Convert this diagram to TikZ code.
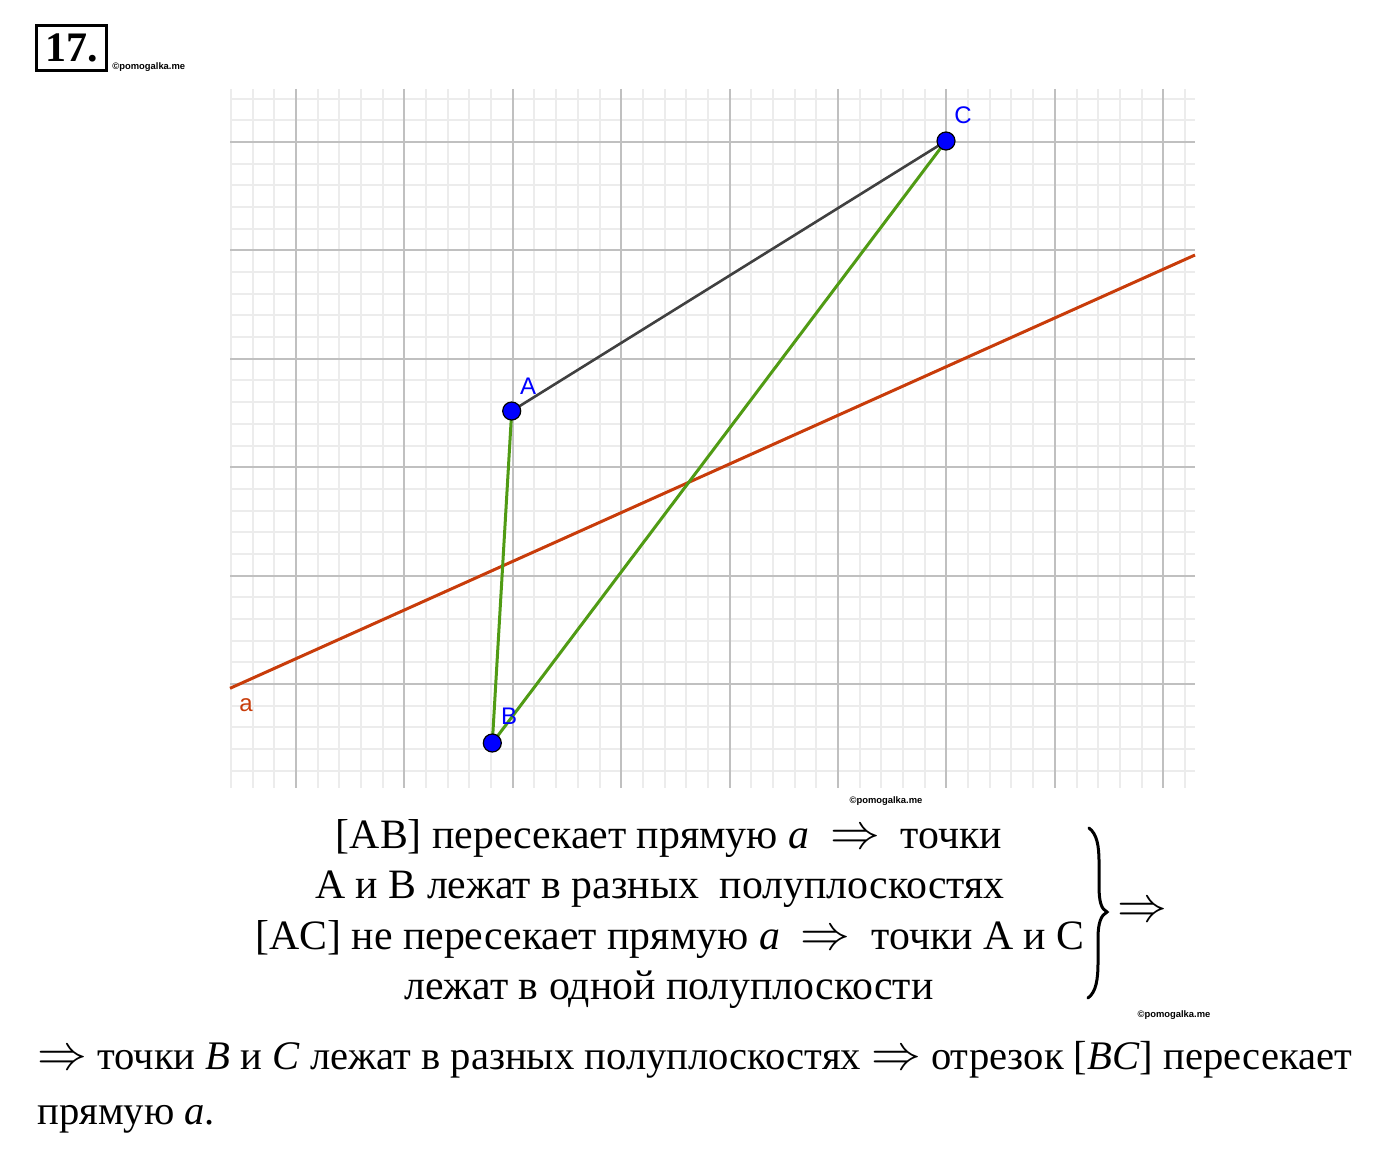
\documentclass[tikz,border=0pt]{standalone}
\usepackage{fontspec}
\setmainfont{Liberation Serif}
\newfontfamily\lsans{Liberation Sans}
\definecolor{gridminor}{RGB}{236,236,236}
\definecolor{gridmajor}{RGB}{192,192,192}
\definecolor{linea}{RGB}{200,60,10}
\definecolor{seggreen}{RGB}{80,155,20}
\definecolor{seggray}{RGB}{64,64,64}
\definecolor{ptblue}{RGB}{0,0,255}
\newcommand\myimp{{\fontsize{23}{23}\selectfont$\Rightarrow$}}
\tikzset{
  minorline/.style={draw=gridminor,line width=1pt},
  majorline/.style={draw=gridmajor,line width=1pt},
  ptdot/.style={circle,fill=ptblue,draw=black,line width=0.6pt,minimum size=9pt,inner sep=0pt},
  ptlabel/.style={font=\lsans\fontsize{12}{12}\selectfont,text=ptblue,inner sep=0pt},
  mark wm/.style={font=\lsans\bfseries\fontsize{4.7}{5}\selectfont,inner sep=0pt},
  uptext/.style={font=\fontsize{20.9}{21}\selectfont,inner sep=0pt,anchor=base},
  lowtext/.style={font=\fontsize{20.3}{20}\selectfont,inner sep=0pt,anchor=base west},
  bracestroke/.style={draw=black,line width=1.5pt,line cap=round},
}
\begin{document}
\begin{tikzpicture}[x=0.5pt,y=-0.5pt]
\useasboundingbox (0,0) rectangle (1400,1156);
% title
\node[draw=black,line width=1.5pt,minimum width=35pt,minimum height=22.5pt,inner sep=0pt,font=\bfseries\fontsize{21}{21}\selectfont] (title) at (71.5,48) {17.};
\node[mark wm,anchor=base west] (wm1) at (112,69) {©pomogalka.me};
% grid
\begin{scope}
\clip (230,89) rectangle (1195,788);
\foreach \i in {-3,...,41} {\path[minorline] (296+\i*21.68,89) -- (296+\i*21.68,788);}
\foreach \j in {-3,...,30} {\path[minorline] (230,142+\j*21.68) -- (1195,142+\j*21.68);}
\foreach \i in {0,...,8} {\path[majorline] (296+\i*108.4,89) -- (296+\i*108.4,788);}
\foreach \j in {0,...,5} {\path[majorline] (230,142+\j*108.4) -- (1195,142+\j*108.4);}
\end{scope}
% points
\coordinate (A) at (511.7,411);
\coordinate (B) at (492.3,743);
\coordinate (C) at (946,141);
\coordinate (a1) at (230,688.3);
\coordinate (a2) at (1195,255);
\draw[linea,line width=1.5pt] (a1) -- (a2);
\draw[seggray,line width=1.3pt] (A) -- (C);
\draw[seggreen,line width=1.5pt] (A) -- (B);
\draw[seggreen,line width=1.5pt] (B) -- (C);
\node[ptdot] (pA) at (A) {};
\node[ptdot] (pB) at (B) {};
\node[ptdot] (pC) at (C) {};
\node[ptlabel] (lA) at (528,386) {A};
\node[ptlabel] (lB) at (509,716) {B};
\node[ptlabel] (lC) at (963,115) {C};
\node[ptlabel,text=linea] (la) at (246,705) {a};
\node[mark wm] (wm2) at (886,801) {©pomogalka.me};
% upper text
\node[uptext] (u1) at (669,848) {[AB] пересекает прямую \textit{a}\enspace\myimp\enspace точки};
\node[uptext] (u2) at (660,898) {A и B лежат в разных~ полуплоскостях};
\node[uptext] (u3) at (670,949) {[AC] не пересекает прямую \textit{a}\enspace\myimp\enspace точки A и C};
\node[uptext] (u4) at (669,999) {лежат в одной полуплоскости};
% brace
\draw[bracestroke] (1089,828) .. controls (1097,834) and (1099,846) .. (1099,862)
  -- (1099,886) .. controls (1099,901) and (1101,909) .. (1107,912)
  .. controls (1101,915) and (1098,923) .. (1098,938)
  -- (1098,962) .. controls (1098,980) and (1096,992) .. (1088,998);
\node[inner sep=0pt] (arr) at (1142,912) {\myimp};
\node[mark wm] (wm3) at (1174,1015) {©pomogalka.me};
% bottom text
\node[lowtext] (b1) at (37,1069) {\myimp\ точки \textit{B} и \textit{C} лежат в разных полуплоскостях \myimp\ отрезок [\textit{BC}] пересекает};
\node[lowtext] (b2) at (37,1124) {прямую \textit{a}.};
\end{tikzpicture}
\end{document}
